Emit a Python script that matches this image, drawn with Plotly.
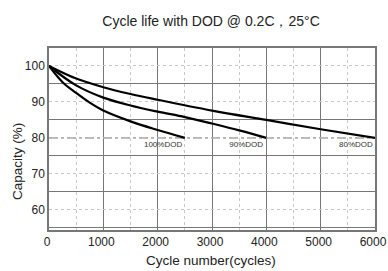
import plotly.graph_objects as go

cycles_100 = [0, 250, 500, 750, 1000, 1500, 2000, 2500]
cap_100 = [100, 95.5, 92.5, 89.8, 87.6, 84.6, 82.2, 80]
cycles_90 = [0, 500, 1000, 1500, 2000, 2500, 3000, 3500, 4000]
cap_90 = [100, 94.6, 91.2, 89.0, 87.3, 85.8, 84.0, 82.1, 80]
cycles_80 = [0, 500, 1000, 1500, 2000, 3000, 4000, 5000, 6000]
cap_80 = [100, 96.5, 94.1, 92.2, 90.6, 87.6, 85.0, 82.4, 80]
labels = ["100%DOD", "90%DOD", "80%DOD"]
label_x = [2100, 3630, 5650]
label_y = [77.9, 77.9, 77.9]
ref_level = 80

fig = go.Figure()
fig.add_trace(go.Scatter(x=[0, 6000], y=[ref_level, ref_level], mode="lines",
                         line=dict(color="#aaaaaa", width=1.5, dash="dashdot"),
                         hoverinfo="skip", showlegend=False))
for xs, ys in [(cycles_100, cap_100), (cycles_90, cap_90), (cycles_80, cap_80)]:
    fig.add_trace(go.Scatter(x=xs, y=ys, mode="lines", line=dict(color="black", width=2.2, shape="spline"),
                             showlegend=False))
fig.add_trace(go.Scatter(x=label_x, y=label_y, mode="text", text=labels,
                         textfont=dict(size=8, color="#333333", family="Liberation Sans"),
                         showlegend=False))

fig.update_layout(
    width=388, height=271,
    margin=dict(l=49, r=13, t=48, b=41),
    paper_bgcolor="white", plot_bgcolor="white",
    title=dict(text="Cycle life with DOD @ 0.2C，25°C", x=0.544, xanchor="center", y=0.921, yanchor="middle",
               font=dict(size=14, color="#222", family="Liberation Sans")),
    font=dict(family="Liberation Sans", color="#222"),
    annotations=[
        dict(text="Cycle number(cycles)", xref="paper", yref="paper", x=0.497, y=-0.17, xanchor="center",
             yanchor="middle", showarrow=False, font=dict(size=13.5, color="#222")),
        dict(text="Capacity (%)", xref="paper", yref="paper", x=-0.095, y=0.374, xanchor="center", yanchor="middle",
             textangle=-90, showarrow=False, font=dict(size=13.5, color="#222")),
    ],
)
fig.update_xaxes(range=[0, 6000], tickmode="linear", tick0=0, dtick=1000, ticks="", automargin=False,
                 ticklabeloverflow="allow", ticklabelshift=-2,
                 showline=True, linecolor="#777", linewidth=1.5, mirror=True,
                 showgrid=True, gridcolor="#777", gridwidth=1,
                 minor=dict(dtick=500, tick0=0, showgrid=True, gridcolor="#c8c8c8", griddash="dot", gridwidth=1),
                 tickfont=dict(size=12), zeroline=False)
fig.update_yaxes(range=[54.4, 105], tickmode="linear", tick0=0, dtick=10, ticks="", automargin=False,
                 ticklabeloverflow="allow",
                 showline=True, linecolor="#777", linewidth=1.5, mirror=True,
                 showgrid=True, gridcolor="#c8c8c8", griddash="dot", gridwidth=1,
                 minor=dict(dtick=5, tick0=0, showgrid=True, gridcolor="#777", gridwidth=1, griddash="solid"),
                 tickfont=dict(size=12), zeroline=False)
fig.write_html("out.html", config={"displayModeBar": False},
               post_script="document.body.style.margin='0';document.body.style.overflow='hidden';")
